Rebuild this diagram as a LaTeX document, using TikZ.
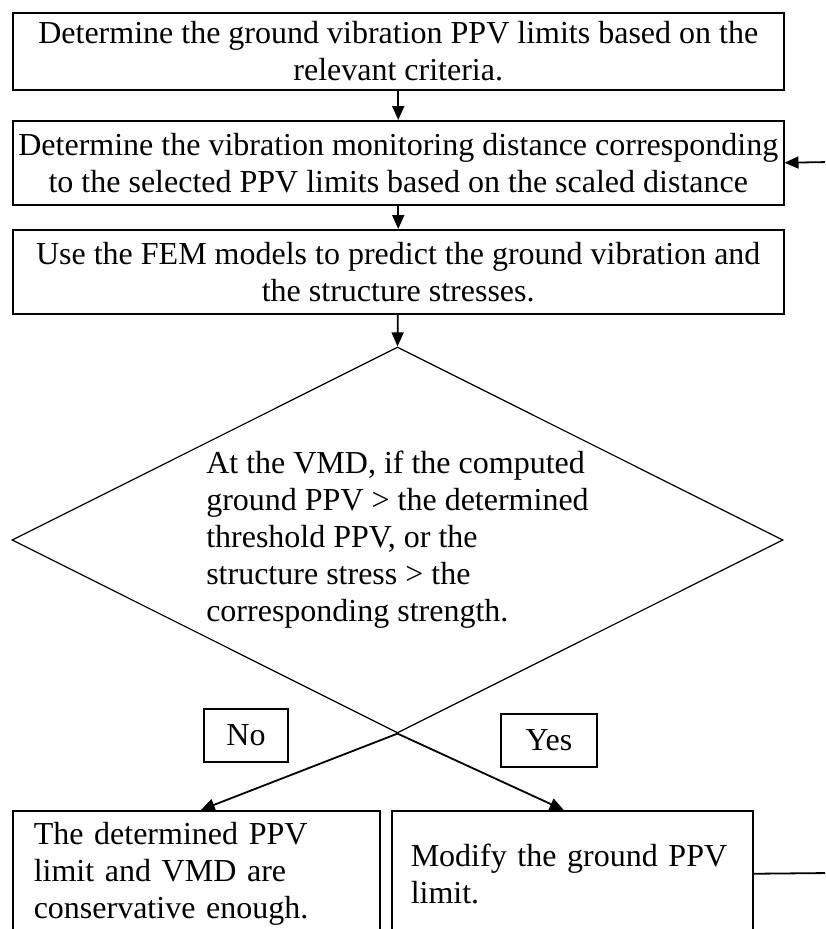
\documentclass[tikz,border=0pt]{standalone}
\usepackage{fontspec}
\setmainfont{Liberation Serif}
\usetikzlibrary{shapes.geometric,arrows.meta}
\begin{document}
\begin{tikzpicture}[x=1pt,y=-1pt,
 every node/.style={font=\fontsize{32}{37}\selectfont},
 box/.style={draw, line width=1.5pt, inner sep=0pt, align=center},
 lab/.style={draw, line width=1.3pt, inner sep=0pt, minimum height=53pt},
 arr/.style={line width=1.8pt, -{Triangle[length=14pt,width=12pt]}},
]
\useasboundingbox (0,0) rectangle (825,929);
\clip (0,0) rectangle (825,929);
\node[box, minimum width=771pt, minimum height=77pt, anchor=north west] (b1) at (12,12)
  {Determine the ground vibration PPV limits based on the\\ relevant criteria.};
\node[box, minimum width=771pt, minimum height=84pt, anchor=north west] (b2) at (12,120)
  {Determine the vibration monitoring distance corresponding\\ to the selected PPV limits based on the scaled distance};
\node[box, minimum width=771pt, minimum height=84pt, anchor=north west] (b3) at (12,229)
  {Use the FEM models to predict the ground vibration and\\ the structure stresses.};
\node[draw, diamond, aspect=2, line width=1.2pt, minimum width=771pt, minimum height=386pt,
  inner xsep=-40pt, inner ysep=-20pt, align=left] (d) at (397.5,540)
  {At the VMD, if the computed\\ ground PPV > the determined\\ threshold PPV, or the\\ structure stress > the\\ corresponding strength.};
\node[box, anchor=north west, minimum width=367pt, minimum height=126pt, align=left, text width=325pt] (l) at (12,810)
  {The determined PPV\\ limit and VMD are\\ conservative enough.};
\node[box, anchor=north west, minimum width=361pt, minimum height=126pt, align=left, text width=323pt] (r) at (391,810)
  {Modify the ground PPV\\ limit.};
\node[lab, minimum width=84pt] (no) at (246,735.5) {No};
\node[lab, minimum width=96pt] (yes) at (549,740.5) {Yes};
\draw[arr] (b1) -- (b2);
\draw[arr] (b2) -- (b3);
\draw[arr] (b3) -- (d.north);
\draw[arr] (d.south) -- ([xshift=4.5pt]l.north);
\draw[arr] (d.south) -- ([xshift=-8.5pt]r.north);
\coordinate (fb1) at (830,162);
\coordinate (fb2) at (830,873);
\draw[arr] (fb1) -- (b2.east);
\draw[line width=1.8pt] (r.east) -- (fb2);
\end{tikzpicture}
\end{document}
